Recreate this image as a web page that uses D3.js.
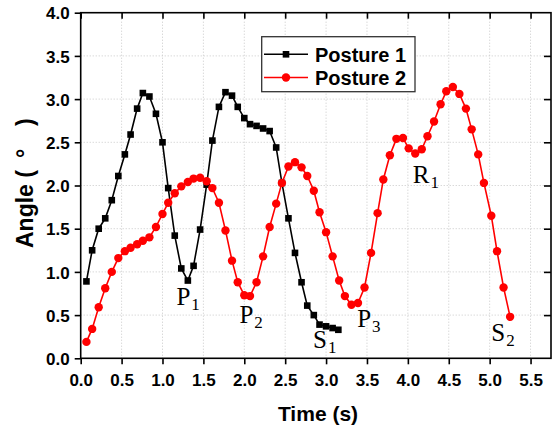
<!DOCTYPE html>
<html>
<head>
<meta charset="utf-8">
<script src="https://cdn.jsdelivr.net/npm/d3@7"></script>
<style>
  html, body { margin: 0; padding: 0; background: #fff; }
  svg { display: block; }
  .tick text { font-family: "Liberation Sans", Arial, sans-serif; font-weight: bold; font-size: 17px; fill: #000; }
</style>
</head>
<body>
<svg id="chart" width="557" height="426"></svg>
<script>
// ---- data ----
const xTicks = [0.0, 0.5, 1.0, 1.5, 2.0, 2.5, 3.0, 3.5, 4.0, 4.5, 5.0, 5.5];
const yTicks = [0.0, 0.5, 1.0, 1.5, 2.0, 2.5, 3.0, 3.5, 4.0];

const posture1Time = [0.07,0.14,0.22,0.30,0.38,0.46,0.54,0.61,0.69,0.76,0.84,0.92,1.00,1.07,1.15,1.23,1.31,1.38,1.46,1.54,1.61,1.69,1.77,1.85,1.92,2.00,2.07,2.15,2.23,2.31,2.39,2.46,2.54,2.62,2.70,2.77,2.85,2.92,3.00,3.08,3.15];
const posture1Angle = [0.89,1.25,1.50,1.62,1.83,2.11,2.36,2.59,2.89,3.07,3.03,2.83,2.50,1.97,1.42,1.04,0.90,1.07,1.49,2.01,2.52,2.91,3.08,3.04,2.91,2.78,2.71,2.69,2.66,2.63,2.44,2.03,1.62,1.22,0.88,0.61,0.50,0.39,0.37,0.35,0.33];

const posture2Time = [0.07,0.14,0.22,0.30,0.38,0.46,0.54,0.61,0.69,0.76,0.84,0.92,1.00,1.07,1.15,1.23,1.31,1.38,1.46,1.54,1.61,1.69,1.77,1.85,1.92,2.00,2.07,2.15,2.23,2.31,2.39,2.46,2.54,2.62,2.70,2.77,2.85,2.92,3.00,3.08,3.16,3.23,3.31,3.39,3.47,3.55,3.63,3.70,3.78,3.86,3.94,4.01,4.09,4.17,4.24,4.32,4.40,4.47,4.55,4.63,4.71,4.78,4.86,4.93,5.02,5.09,5.17,5.25];
const posture2Angle = [0.19,0.34,0.59,0.81,1.00,1.16,1.24,1.28,1.32,1.36,1.40,1.52,1.67,1.80,1.91,1.99,2.04,2.08,2.09,2.05,1.97,1.80,1.48,1.13,0.88,0.73,0.72,0.88,1.18,1.52,1.79,2.03,2.22,2.27,2.21,2.11,1.94,1.69,1.46,1.18,0.90,0.72,0.62,0.64,0.82,1.22,1.68,2.07,2.35,2.54,2.55,2.43,2.37,2.42,2.57,2.74,2.94,3.09,3.14,3.06,2.89,2.65,2.36,2.03,1.65,1.24,0.82,0.48];

const seriesNames = ["Posture 1", "Posture 2"];
const seriesColors = ["#000000", "#ff0000"];

const labelLetters = ["P", "P", "S", "P", "R", "S"];
const labelSubs = ["1", "2", "1", "3", "1", "2"];
const labelTime = [1.17, 1.94, 2.84, 3.38, 4.06, 5.02];
const labelAngle = [0.62, 0.41, 0.12, 0.36, 2.03, 0.20];

// ---- layout ----
const svg = d3.select("#chart");
const plot = { left: 80.7, right: 551, top: 12.7, bottom: 358.3 };

const x = d3.scaleLinear().domain([0, 5.75]).range([plot.left, plot.right]);
const y = d3.scaleLinear().domain([0, 4]).range([plot.bottom, plot.top]);

// grid
const grid = svg.append("g").attr("class", "grid");
grid.selectAll("line.vx").data(xTicks.filter(d => d > 0)).enter().append("line")
  .attr("x1", d => x(d)).attr("x2", d => x(d))
  .attr("y1", plot.top).attr("y2", plot.bottom)
  .attr("stroke", "#c8c8c8").attr("stroke-width", 1).attr("stroke-dasharray", "1,2");
grid.selectAll("line.hy").data(yTicks.filter(d => d > 0 && d < 4)).enter().append("line")
  .attr("y1", d => y(d)).attr("y2", d => y(d))
  .attr("x1", plot.left).attr("x2", plot.right)
  .attr("stroke", "#c8c8c8").attr("stroke-width", 1).attr("stroke-dasharray", "1,2");

// series
const s1 = posture1Time.map((t, i) => [t, posture1Angle[i]]);
const s2 = posture2Time.map((t, i) => [t, posture2Angle[i]]);
const line = d3.line().x(d => x(d[0])).y(d => y(d[1]));

svg.append("path").datum(s1).attr("d", line)
  .attr("fill", "none").attr("stroke", seriesColors[0]).attr("stroke-width", 1.6);
svg.append("path").datum(s2).attr("d", line)
  .attr("fill", "none").attr("stroke", seriesColors[1]).attr("stroke-width", 1.6);

const sq = 6.6;
svg.append("g").selectAll("rect").data(s1).enter().append("rect")
  .attr("x", d => x(d[0]) - sq / 2).attr("y", d => y(d[1]) - sq / 2)
  .attr("width", sq).attr("height", sq).attr("fill", seriesColors[0]);
svg.append("g").selectAll("circle").data(s2).enter().append("circle")
  .attr("cx", d => x(d[0])).attr("cy", d => y(d[1])).attr("r", 4.2)
  .attr("fill", seriesColors[1]);

// axes
const fmt = d3.format(".1f");
const axB = svg.append("g").attr("transform", `translate(0,${plot.bottom})`)
  .call(d3.axisBottom(x).tickValues(xTicks).tickFormat(fmt).tickSize(6).tickSizeOuter(0).tickPadding(10));
const axL = svg.append("g").attr("transform", `translate(${plot.left},0)`)
  .call(d3.axisLeft(y).tickValues(yTicks).tickFormat(fmt).tickSize(6).tickSizeOuter(0).tickPadding(5));
const axT = svg.append("g").attr("transform", `translate(0,${plot.top})`)
  .call(d3.axisTop(x).tickValues(xTicks).tickFormat("").tickSize(-6).tickSizeOuter(0));
const axR = svg.append("g").attr("transform", `translate(${plot.right},0)`)
  .call(d3.axisRight(y).tickValues(yTicks.filter(d => d > 0 && d < 4)).tickFormat("").tickSize(-7).tickSizeOuter(0));
[axB, axL, axT, axR].forEach(g => {
  g.select(".domain").remove();
  g.selectAll(".tick line").attr("stroke", "#000").attr("stroke-width", 1.6);
});
axL.selectAll(".tick text").attr("dy", "0.36em");

// frame
svg.append("rect")
  .attr("x", plot.left).attr("y", plot.top)
  .attr("width", plot.right - plot.left).attr("height", plot.bottom - plot.top)
  .attr("fill", "none").attr("stroke", "#000").attr("stroke-width", 1.6);

// annotations
const ann = svg.append("g")
  .attr("font-family", "'Liberation Serif', 'Times New Roman', serif")
  .attr("fill", "#000");
labelLetters.forEach((L, i) => {
  const t = ann.append("text")
    .attr("x", x(labelTime[i])).attr("y", y(labelAngle[i]))
    .attr("font-size", 25);
  t.append("tspan").text(L);
  t.append("tspan").attr("font-size", 17).attr("dy", 5).attr("dx", 1).text(labelSubs[i]);
});

// legend
const lg = svg.append("g");
lg.append("rect").attr("x", 261.7).attr("y", 36.7).attr("width", 153.3).attr("height", 55)
  .attr("fill", "#fff").attr("stroke", "#333").attr("stroke-width", 1.3);
const rowsY = [54.3, 77.5];
seriesNames.forEach((name, i) => {
  lg.append("line").attr("x1", 264).attr("x2", 308).attr("y1", rowsY[i]).attr("y2", rowsY[i])
    .attr("stroke", seriesColors[i]).attr("stroke-width", 1.6);
  if (i === 0) {
    lg.append("rect").attr("x", 286 - sq / 2).attr("y", rowsY[i] - sq / 2)
      .attr("width", sq).attr("height", sq).attr("fill", seriesColors[i]);
  } else {
    lg.append("circle").attr("cx", 286).attr("cy", rowsY[i]).attr("r", 4.2).attr("fill", seriesColors[i]);
  }
  lg.append("text").attr("x", 315).attr("y", rowsY[i]).attr("dy", "0.36em")
    .attr("font-family", "'Liberation Sans', Arial, sans-serif").attr("font-weight", "bold")
    .attr("font-size", 20).text(name);
});

// axis titles
svg.append("text").attr("x", 318).attr("y", 421).attr("text-anchor", "middle")
  .attr("font-family", "'Liberation Sans', Arial, sans-serif").attr("font-weight", "bold")
  .attr("font-size", 21).text("Time (s)");

const yt = svg.append("text").attr("transform", "translate(33,0) rotate(-90)")
  .attr("font-family", "'Liberation Sans', Arial, sans-serif").attr("font-weight", "bold")
  .attr("font-size", 23);
yt.append("tspan").attr("x", -248).text("Angle (");
yt.append("tspan").attr("x", -158).text("°");
yt.append("tspan").attr("x", -126).text(")");
</script>
</body>
</html>
